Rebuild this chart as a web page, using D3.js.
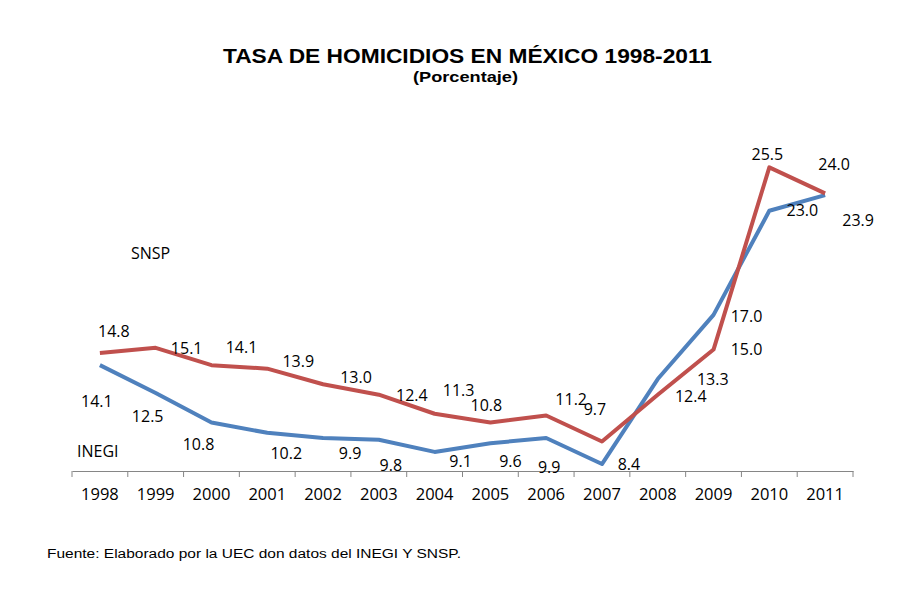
<!DOCTYPE html>
<html>
<head>
<meta charset="utf-8">
<script src="https://cdn.jsdelivr.net/npm/d3@7"></script>
<style>
  body { margin: 0; background: #fff; }
  .lbl { font-family: "Open Sans", sans-serif; font-size: 16px; fill: #000; }
  .xAxis text { font-family: "Open Sans", sans-serif; font-size: 16.5px; fill: #000; }
</style>
</head>
<body>
<div id="chart"></div>
<script>
// data
var years = ["1998","1999","2000","2001","2002","2003","2004","2005","2006","2007","2008","2009","2010","2011"];
var inegi = [14.1, 12.5, 10.8, 10.2, 9.9, 9.8, 9.1, 9.6, 9.9, 8.4, 13.3, 17.0, 23.0, 23.9];
var snsp  = [14.8, 15.1, 14.1, 13.9, 13.0, 12.4, 11.3, 10.8, 11.2, 9.7, 12.4, 15.0, 25.5, 24.0];

// hand-moved label nudges (px from the point), as in the original sheet
var snspNudge = [[14,-16],[31,6],[30,-12],[31,-2],[33,-1],[33,6],[24,-18],[-4,-11],[25,-10],[-7,-27],[33,7],[33,5],[-2,-7],[9,-23]];
var inegiNudge = [[-3,42],[-8,29],[-13,28],[19,26],[27,21],[12,31],[26,15],[20,24],[3,35],[27,6],[55,6],[33,7],[33,5],[33,31]];

var width = 916, height = 592;

var svg = d3.select("#chart").append("svg").attr("width", width).attr("height", height);

var x = d3.scaleBand().domain(years).range([72, 853]);
var y = d3.scaleLinear().domain([8, 28]).range([471, 124]);

// titles
svg.append("text").attr("x", 223).attr("y", 63).attr("textLength", 489).attr("lengthAdjust", "spacingAndGlyphs")
  .style("font-family", "'Liberation Sans', Arial, sans-serif").style("font-weight", "bold").style("font-size", "21px")
  .text("TASA DE HOMICIDIOS EN MÉXICO 1998-2011");
svg.append("text").attr("x", 413).attr("y", 82).attr("textLength", 105).attr("lengthAdjust", "spacingAndGlyphs")
  .style("font-family", "'Liberation Sans', Arial, sans-serif").style("font-weight", "bold").style("font-size", "15px")
  .text("(Porcentaje)");

// x axis
var xx = d3.axisBottom(x).tickSize(0).tickSizeOuter(0).tickPadding(17);
var gx = svg.append("g").attr("class", "xAxis").attr("transform", "translate(0,471)").call(xx);
gx.select(".domain").attr("stroke", "#868686");

gx.selectAll("line.bound").data(d3.range(years.length + 1)).enter().append("line")
  .attr("class", "bound")
  .attr("x1", function(i) { return x.range()[0] + i * x.step(); })
  .attr("x2", function(i) { return x.range()[0] + i * x.step(); })
  .attr("y1", 0).attr("y2", 6).attr("stroke", "#868686");

var line = d3.line()
  .x(function(d, i) { return x(years[i]) + x.bandwidth() / 2; })
  .y(function(d) { return y(d); });

svg.append("path").datum(inegi).attr("d", line).attr("fill", "none")
  .attr("stroke", "#4F81BD").attr("stroke-width", 4).attr("stroke-linejoin", "round");
svg.append("path").datum(snsp).attr("d", line).attr("fill", "none")
  .attr("stroke", "#C0504D").attr("stroke-width", 4).attr("stroke-linejoin", "round");

function labels(vals, nudge, cls) {
  svg.selectAll("text." + cls).data(vals).enter().append("text")
    .attr("class", "lbl " + cls)
    .attr("text-anchor", "middle")
    .attr("x", function(d, i) { return x(years[i]) + x.bandwidth() / 2 + nudge[i][0]; })
    .attr("y", function(d, i) { return y(d) + nudge[i][1]; })
    .text(function(d) { return d.toFixed(1); });
}
labels(snsp, snspNudge, "s");
labels(inegi, inegiNudge, "i");

// series names
svg.append("text").attr("class", "lbl").attr("x", 131).attr("y", 259).text("SNSP");
svg.append("text").attr("class", "lbl").attr("x", 77).attr("y", 457).text("INEGI");

// source note
svg.append("text").attr("x", 47).attr("y", 558).attr("textLength", 414).attr("lengthAdjust", "spacingAndGlyphs")
  .style("font-family", "'Liberation Sans', Arial, sans-serif").style("font-size", "12.5px")
  .text("Fuente: Elaborado por la UEC don datos del  INEGI Y SNSP.");
</script>
</body>
</html>
